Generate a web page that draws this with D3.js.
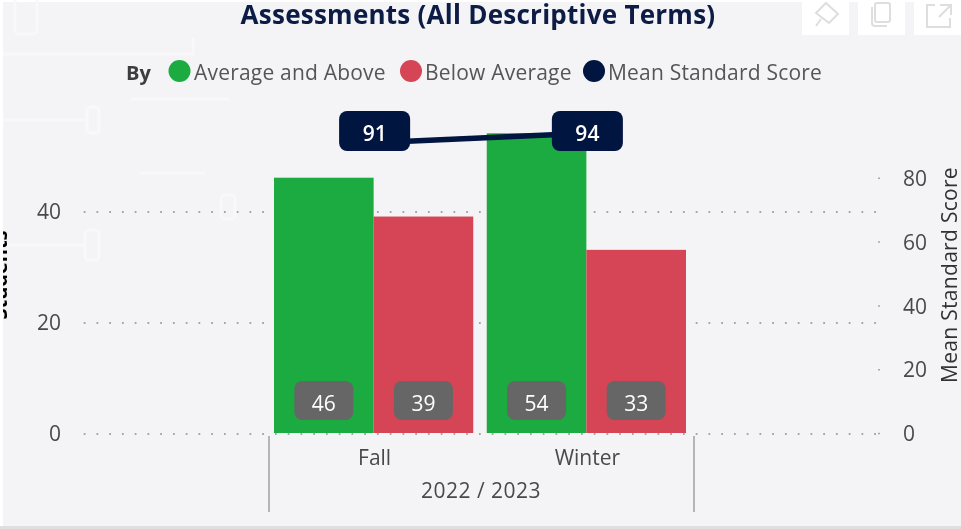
<!DOCTYPE html>
<html><head><meta charset="utf-8">
<script src="https://cdn.jsdelivr.net/npm/d3@7"></script>
<style>html,body{margin:0;padding:0;background:#f4f4f6;overflow:hidden}svg{display:block;font-family:"Open Sans",sans-serif}</style>
</head><body><svg id="c" width="961" height="529"></svg>
<script>
const categories=["Fall","Winter"];
const yearLabel="2022 / 2023";
const seriesNames=["Average and Above","Below Average"];
const averageAndAbove=[46,54];
const belowAverage=[39,33];
const meanStandardScore=[91,94];
const leftTicks=[0,20,40];
const rightTicks=[0,20,40,60,80];
const colors=["#1bab40","#d64554"];
const navy="#02133f";

const svg=d3.select("#c");
const bg=svg.append("g").attr("filter","url(#soft)");
const defs=svg.append("defs");
defs.append("filter").attr("id","soft").attr("x","-5%").attr("y","-5%").attr("width","110%").attr("height","110%")
  .append("feGaussianBlur").attr("stdDeviation",0.5);
defs.append("clipPath").attr("id","leftClip").append("rect").attr("x",3).attr("y",0).attr("width",958).attr("height",529);

// page
bg.append("rect").attr("width",961).attr("height",529).attr("fill","#f4f4f6");
bg.append("rect").attr("width",3).attr("height",529).attr("fill","#fff");
bg.append("rect").attr("y",0).attr("width",961).attr("height",2).attr("fill","#fff");
bg.append("rect").attr("y",526).attr("width",961).attr("height",3).attr("fill","#dfdfdf");

// faint watermark
const wm=bg.append("g").attr("fill","none").attr("stroke","#f8f8f9").attr("stroke-width",3);
[[26,15,11,19],[93,120,6,13],[228,207,7,12],[92,245,7,15],[93,120,6,13]].forEach(d=>{
  wm.append("rect").attr("x",d[0]-d[2]).attr("y",d[1]-d[3]).attr("width",d[2]*2).attr("height",d[3]*2).attr("rx",4);
});
wm.append("path").attr("d","M3 54H193V38 M3 120H85 M3 245H84 M140 173H205 M130 99H230");

// pane icon buttons
[802,858,914].forEach(x=>bg.append("rect").attr("x",x).attr("y",2).attr("width",47).attr("height",33).attr("fill","#fff"));
const ic=bg.append("g").attr("fill","none").attr("stroke","#dedee0").attr("stroke-width",2);
ic.append("path").attr("d","M816 13L826 3L838 14L829 23Z M821 19L816 26");
ic.append("rect").attr("x",875).attr("y",3).attr("width",15).attr("height",19).attr("rx",2);
ic.append("path").attr("d","M872 7V23Q872 26 875 26H887");
ic.append("path").attr("d","M935 5H927V27H950V18 M940 5H951V15 M951 5L939 17");

// scales
const x0=d3.scaleBand().domain(categories).range([274,686]).paddingInner(0.0634).paddingOuter(0);
const x1=d3.scaleBand().domain(seriesNames).range([0,x0.bandwidth()]);
const yL=d3.scaleLinear().domain([0,60]).range([433,100]);
const yR=d3.scaleLinear().domain([0,100]).range([433,114]);

const plot=svg.append("g").attr("filter","url(#soft)");
const tickFont=21;

// left axis with dotted gridlines
const gridLeft=plot.append("g").attr("transform","translate(878,0)")
  .call(d3.axisLeft(yL).tickValues(leftTicks).tickSize(796).tickPadding(21));
gridLeft.select(".domain").remove();
gridLeft.selectAll("line").attr("stroke","#a6a6a8").attr("stroke-width",2).attr("stroke-dasharray","1.8 10.95").attr("stroke-dashoffset",-2).attr("y1",0.5).attr("y2",0.5);
gridLeft.selectAll("text").attr("font-size",tickFont).attr("y",1).attr("fill","#4a4a4a").attr("font-family",'"Open Sans",sans-serif');

// right axis
const axisR=plot.append("g").attr("transform","translate(878,0)")
  .call(d3.axisRight(yR).tickValues(rightTicks).tickSize(2).tickPadding(23));
axisR.select(".domain").remove();
axisR.selectAll("line").attr("stroke","#a8a8aa").attr("stroke-width",1.5);
axisR.selectAll("text").attr("font-size",tickFont).attr("y",1).attr("fill","#4a4a4a").attr("font-family",'"Open Sans",sans-serif');

// bars
const rows=categories.map((c,i)=>({c,vals:[averageAndAbove[i],belowAverage[i]]}));
const groups=plot.selectAll(".grp").data(rows).join("g").attr("class","grp").attr("transform",d=>`translate(${x0(d.c)},0)`);
groups.selectAll("rect.bar").data(d=>d.vals.map((v,i)=>({v,s:seriesNames[i],i}))).join("rect").attr("class","bar")
  .attr("x",d=>x1(d.s)).attr("width",x1.bandwidth())
  .attr("y",d=>yL(d.v)).attr("height",d=>yL(0)-yL(d.v)).attr("fill",d=>colors[d.i]);

// bar labels
const barLab=groups.selectAll("g.lab").data(d=>d.vals.map((v,i)=>({v,s:seriesNames[i]}))).join("g").attr("class","lab")
  .attr("transform",d=>`translate(${x1(d.s)+x1.bandwidth()/2},401)`);
barLab.append("rect").attr("x",-29.5).attr("y",-20).attr("width",59).attr("height",39).attr("rx",8).attr("fill","#666");
barLab.append("text").attr("text-anchor","middle").attr("y",9.5).attr("font-size",tickFont).attr("fill","#fff").text(d=>d.v);

// line
const lineGen=d3.line().x((d,i)=>x0(categories[i])+x0.bandwidth()/2).y(d=>yR(d));
plot.append("path").datum(meanStandardScore).attr("d",lineGen).attr("fill","none").attr("stroke",navy).attr("stroke-width",5.5);
const lineLab=plot.selectAll("g.ml").data(meanStandardScore).join("g").attr("class","ml")
  .attr("transform",(d,i)=>`translate(${x0(categories[i])+x0.bandwidth()/2+1},131)`);
lineLab.append("rect").attr("x",-35.5).attr("y",-20).attr("width",71).attr("height",40).attr("rx",8).attr("fill",navy);
lineLab.append("text").attr("text-anchor","middle").attr("y",9.5).attr("font-size",tickFont).attr("font-weight",600).attr("fill","#fff").text(d=>d);

// x axis
const xa=plot.append("g").attr("stroke","#b5b5b5").attr("stroke-width",2);
xa.append("line").attr("x1",269).attr("x2",269).attr("y1",436).attr("y2",512);
xa.append("line").attr("x1",694).attr("x2",694).attr("y1",436).attr("y2",512);
plot.selectAll("text.cat").data(categories).join("text").attr("class","cat")
  .attr("x",d=>x0(d)+x0.bandwidth()/2+1).attr("y",465).attr("text-anchor","middle").attr("font-size",tickFont).attr("fill","#4a4a4a").text(d=>d);
plot.append("text").attr("x",481).attr("y",498).attr("text-anchor","middle").attr("font-size",tickFont).attr("letter-spacing",0.5).attr("fill","#4a4a4a").text(yearLabel);

// axis titles
plot.append("g").attr("clip-path","url(#leftClip)").append("text")
  .attr("transform","translate(7,275) rotate(-90)").attr("text-anchor","middle").attr("font-size",20).attr("font-weight",700).attr("fill","#000").text("Students");
plot.append("text").attr("transform","translate(957,275) rotate(-90)").attr("text-anchor","middle").attr("font-size",21).attr("letter-spacing",0.3).attr("fill","#333").text("Mean Standard Score");

// title
plot.append("text").attr("x",478).attr("y",24).attr("text-anchor","middle").attr("font-size",26).attr("letter-spacing",0.25).attr("font-weight",700).attr("fill","#0a1a45").text("Assessments (All Descriptive Terms)");

// legend
plot.append("text").attr("x",126).attr("y",80).attr("font-size",20).attr("font-weight",700).attr("fill","#3c3c3c").text("By");
const legend=[[seriesNames[0],colors[0],179.5,194],[seriesNames[1],colors[1],411,425],["Mean Standard Score",navy,594,608]];
legend.forEach(d=>{
  plot.append("circle").attr("cx",d[2]).attr("cy",71).attr("r",11).attr("fill",d[1]);
  plot.append("text").attr("x",d[3]).attr("y",80).attr("font-size",21).attr("letter-spacing",0.2).attr("fill","#555").text(d[0]);
});
</script></body></html>
